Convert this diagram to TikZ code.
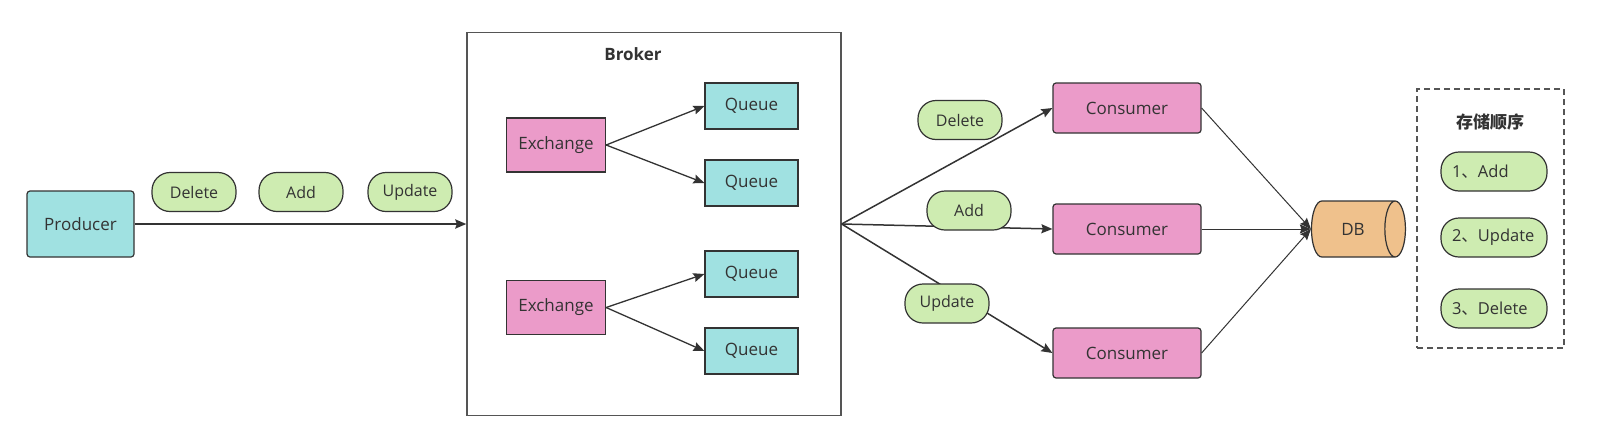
\documentclass[tikz,border=0pt]{standalone}
\usepackage{fontspec}
\setmainfont{Open Sans}
\newfontfamily\cjk{Noto Sans CJK SC}
\usetikzlibrary{arrows.meta,positioning,shapes.geometric}
\definecolor{MqCyan}{HTML}{A0E1E1}
\definecolor{MqPink}{HTML}{EB9BC9}
\definecolor{MqGreen}{HTML}{CEECB1}
\definecolor{MqOrange}{HTML}{EFC18C}
\definecolor{MqLine}{HTML}{333333}
\definecolor{MqFrame}{HTML}{555555}

\begin{document}
\begin{tikzpicture}[x=1pt, y=-1pt, font=\fontsize{17}{20}\selectfont,
  bx/.style={draw=MqLine, line width=1.2pt, inner sep=0pt, text=MqLine},
  qu/.style={bx, fill=MqCyan, minimum width=93pt, minimum height=46pt},
  xc/.style={bx, fill=MqPink, minimum width=99pt, minimum height=54pt},
  cs/.style={bx, fill=MqPink, rounded corners=3pt, minimum width=148pt, minimum height=50pt},
  pill/.style={bx, fill=MqGreen, rounded corners=18pt, minimum width=84pt, minimum height=39pt,
               font=\fontsize{16}{19}\selectfont},
  ord/.style={pill, minimum width=106pt, text width=84pt, inner xsep=11pt, align=left,
              font=\fontsize{16.5}{19}\selectfont},
  ar/.style={-{Stealth[length=11pt,width=9pt,inset=1.5pt]}, line width=1.5pt, MqLine},
  thinar/.style={ar, line width=1pt}]
\useasboundingbox (0,0) rectangle (1608,445);

% producer side
\node[bx, fill=MqCyan, rounded corners=3pt, minimum width=107pt, minimum height=66pt] (prod) at (80.5,224) {Producer};
\node[draw=MqFrame, line width=1.3pt, minimum width=374pt, minimum height=383pt] (broker) at (654,224) {};
\node[font=\fontsize{17}{20}\selectfont\bfseries, text=MqLine] (brokerlbl) at (633,54) {Broker};
\draw[ar, line width=2.8pt] (prod) -- (broker.west);
\node[pill] (pdel) at (194,192) {Delete};
\node[pill] (padd) at (301,192) {Add};
\node[pill] (pupd) at (410,192) {Update};

% inside the broker
\node[xc] (ex1) at (556,145) {Exchange};
\node[xc] (ex2) at (556,307.5) {Exchange};
\node[qu] (q1) at (751.5,106) {Queue};
\node[qu] (q2) at (751.5,183) {Queue};
\node[qu] (q3) at (751.5,274) {Queue};
\node[qu] (q4) at (751.5,351) {Queue};
\draw[ar, line width=1.3pt] (ex1.east) -- (q1.west);
\draw[ar, line width=1.3pt] (ex1.east) -- (q2.west);
\draw[ar, line width=1.3pt] (ex2.east) -- (q3.west);
\draw[ar, line width=1.3pt] (ex2.east) -- (q4.west);

% consumers
\node[cs] (c1) at (1127,108) {Consumer};
\node[cs] (c2) at (1127,229) {Consumer};
\node[cs] (c3) at (1127,353) {Consumer};
\coordinate (fan) at (broker.east);
\draw[ar] (fan) -- (c1.west);
\draw[ar] (fan) -- (c2.west);
\draw[ar] (fan) -- (c3.west);
\node[pill] (cdel) at (960,120) {Delete};
\node[pill] (cadd) at (969,210.5) {Add};
\node[pill] (cupd) at (947,303.5) {Update};

% storage
\node[cylinder, draw=MqLine, line width=1.2pt, fill=MqOrange, aspect=1.7, text=MqLine,
      minimum width=56pt, minimum height=94pt, inner sep=0pt] (db) at (1353,229) {DB};
\draw[thinar] (c1.east) -- (db.west);
\draw[thinar] (c2.east) -- (db.west);
\draw[thinar] (c3.east) -- (db.west);

% order legend
\node[draw=MqFrame, dash pattern=on 6pt off 4pt, line width=1.3pt, minimum width=147pt, minimum height=259pt] (order) at (1490.5,218.5) {};
\node[font=\cjk\fontsize{17}{20}\selectfont\bfseries, text=MqLine] (orderlbl) at (1490,122) {存储顺序};
\node[ord] (o1) at (1494,171.5) {1{\cjk 、}Add};
\node[ord] (o2) at (1494,237.5) {2{\cjk 、}Update};
\node[ord] (o3) at (1494,308.5) {3{\cjk 、}Delete};
\end{tikzpicture}
\end{document}
